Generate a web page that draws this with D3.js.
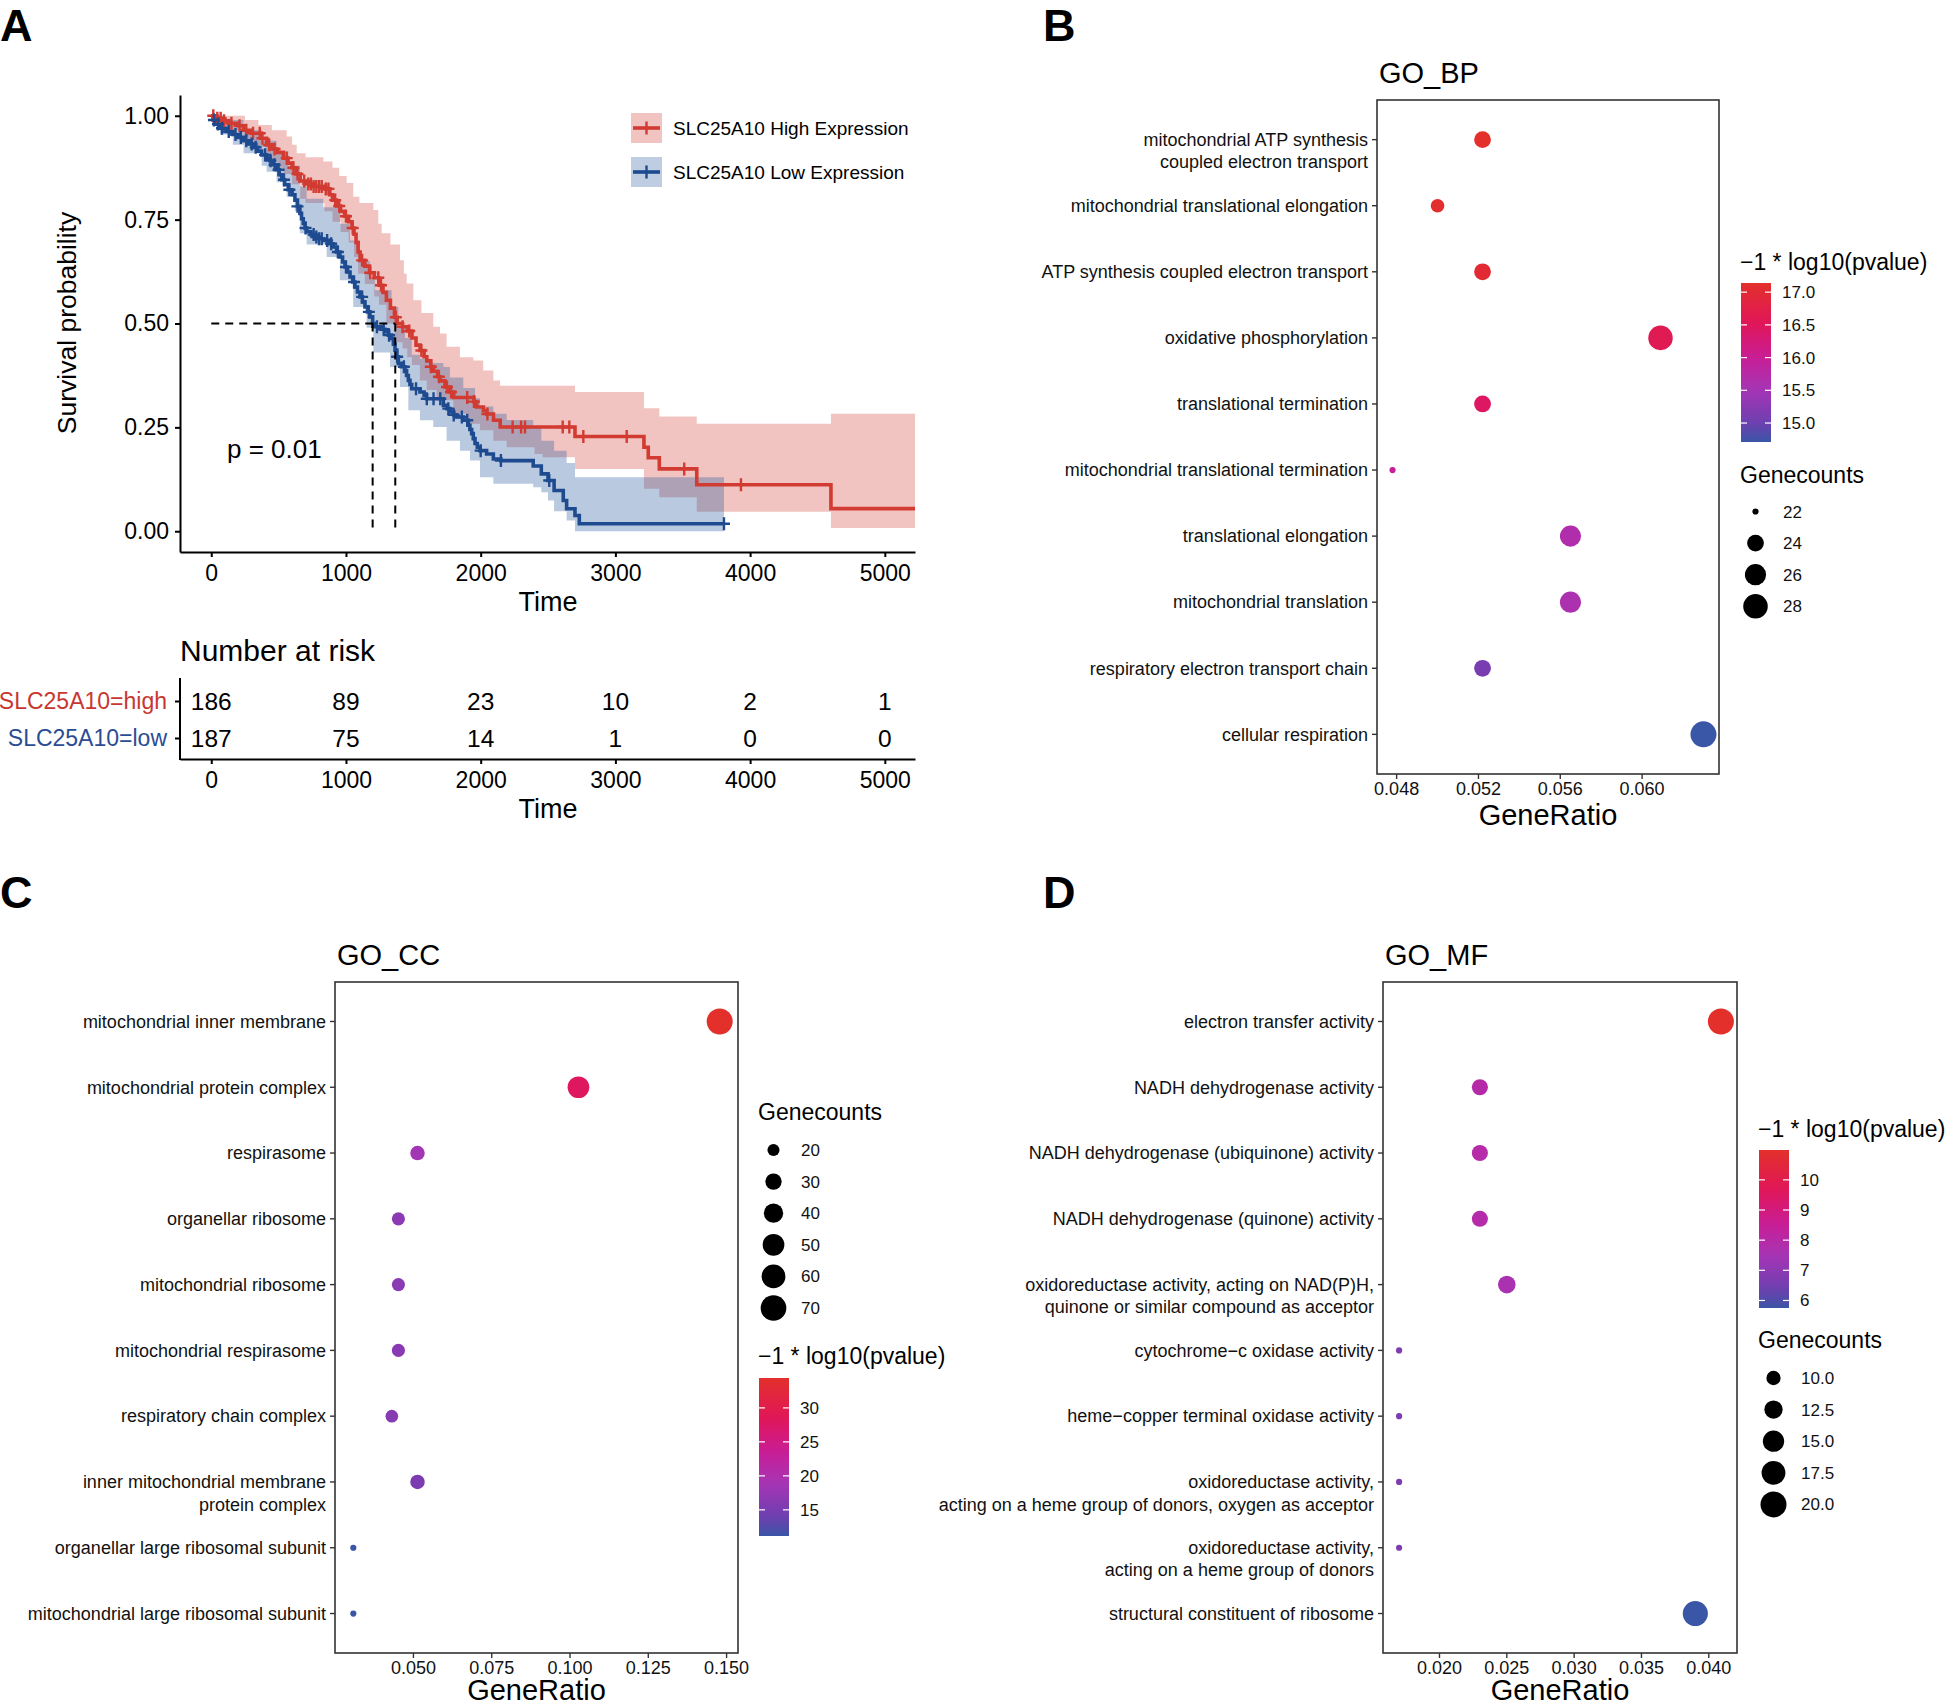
<!DOCTYPE html>
<html><head><meta charset="utf-8">
<script src="https://cdn.jsdelivr.net/npm/d3@7"></script>
<style>body{margin:0;background:#fff}svg{display:block}text{font-family:"Liberation Sans",Arial,Helvetica,sans-serif}</style>
</head><body><svg id="fig" width="1952" height="1708"></svg>
<script>
// ================= DATA =================
// Panel A: Kaplan-Meier
const kmLegend = ["SLC25A10 High Expression", "SLC25A10 Low Expression"];
const highTimes = [0,30,80,130,200,240,300,370,410,450,490,535,570,600,630,660,700,760,840,880,900,930,960,990,1020,1045,1060,1075,1090,1105,1140,1175,1210,1245,1275,1300,1330,1360,1380,1420,1455,1490,1520,1550,1580,1600,1630,1650,1680,1700,1735,1770,1800,1950,1970,2020,2045,2095,2145,2700,3212,3244,3326,3604,4600];
const highSurv  = [1,0.994,0.988,0.982,0.976,0.965,0.958,0.946,0.930,0.920,0.912,0.898,0.886,0.875,0.860,0.843,0.836,0.830,0.824,0.810,0.797,0.783,0.770,0.758,0.745,0.730,0.715,0.695,0.672,0.652,0.638,0.622,0.610,0.592,0.575,0.556,0.537,0.515,0.500,0.492,0.482,0.465,0.448,0.435,0.420,0.410,0.396,0.385,0.372,0.362,0.347,0.335,0.322,0.312,0.299,0.290,0.282,0.267,0.251,0.228,0.202,0.177,0.150,0.112,0.0545];
const highEnd = 5224;
const highUpT = [0,250,350,450,560,600,634,700,832,900,950,1005,1054,1100,1203,1240,1265,1330,1401,1430,1451,1500,1560,1648,1698,1747,1846,1945,2019,2094,2143,2700,3212,3326,3604,4600];
const highUp  = [1,0.99,0.978,0.965,0.950,0.930,0.910,0.900,0.890,0.875,0.855,0.838,0.805,0.790,0.773,0.740,0.717,0.690,0.652,0.620,0.596,0.556,0.525,0.492,0.476,0.444,0.419,0.411,0.387,0.363,0.350,0.335,0.296,0.276,0.259,0.283];
const highLoT = [0,100,240,300,410,490,535,600,660,700,840,900,960,1020,1060,1090,1140,1210,1245,1300,1360,1420,1455,1490,1549,1600,1673,1797,1896,1995,2094,2193,2400,2460,2700,3212,3326,3604,4600];
const highLo  = [0.99,0.965,0.935,0.925,0.895,0.875,0.860,0.835,0.800,0.790,0.770,0.745,0.720,0.695,0.660,0.620,0.595,0.565,0.545,0.500,0.455,0.440,0.419,0.400,0.363,0.340,0.315,0.283,0.259,0.243,0.218,0.202,0.186,0.178,0.150,0.102,0.082,0.047,0.008];
const highCensor = [15,45,70,95,150,210,260,310,360,380,430,470,560,610,640,690,720,740,760,780,800,820,850,870,920,950,1000,1050,1120,1180,1240,1260,1370,1420,1470,1560,1630,1690,1750,1780,1900,1950,2050,2237,2300,2329,2609,2658,2762,3084,3511,3932];

const lowTimes = [0,15,40,65,110,160,200,240,280,312,345,374,410,436,460,485,505,523,545,572,600,621,640,658,670,683,696,708,740,770,800,832,870,906,930,955,975,993,1012,1030,1050,1067,1085,1104,1122,1141,1160,1178,1198,1215,1260,1290,1315,1339,1352,1364,1377,1389,1410,1438,1450,1463,1475,1488,1549,1580,1599,1723,1750,1772,1800,1822,1871,1908,1920,1933,1945,1958,1975,1995,2044,2094,2150,2390,2450,2500,2545,2613,2638,2700,2732];
const lowSurv  = [1,0.990,0.980,0.970,0.962,0.955,0.948,0.940,0.932,0.924,0.915,0.906,0.898,0.892,0.882,0.870,0.858,0.846,0.834,0.822,0.810,0.797,0.782,0.765,0.752,0.741,0.730,0.721,0.714,0.708,0.704,0.700,0.692,0.684,0.672,0.660,0.648,0.636,0.624,0.612,0.600,0.588,0.576,0.564,0.552,0.540,0.528,0.516,0.500,0.492,0.486,0.480,0.472,0.464,0.450,0.436,0.420,0.404,0.396,0.387,0.375,0.363,0.353,0.343,0.335,0.327,0.319,0.303,0.295,0.287,0.280,0.275,0.267,0.255,0.245,0.235,0.223,0.211,0.202,0.194,0.186,0.174,0.170,0.157,0.138,0.122,0.098,0.074,0.054,0.038,0.018];
const lowEnd = 3806;
const lowUpT = [0,100,240,374,485,572,658,708,832,955,1030,1104,1178,1215,1339,1389,1438,1488,1549,1624,1723,1772,1871,1958,1995,2094,2193,2390,2450,2545,2638,2700];
const lowUp  = [1,0.99,0.965,0.940,0.915,0.880,0.830,0.800,0.780,0.740,0.700,0.650,0.610,0.580,0.540,0.490,0.465,0.425,0.415,0.405,0.395,0.370,0.345,0.320,0.300,0.283,0.268,0.252,0.218,0.194,0.164,0.130];
const lowLoT = [0,65,160,240,374,411,485,560,620,658,708,857,955,1054,1153,1203,1327,1401,1463,1549,1648,1747,1846,1921,1995,2094,2390,2450,2500,2545,2638,2700];
const lowLo  = [0.985,0.955,0.930,0.910,0.880,0.865,0.840,0.805,0.770,0.717,0.690,0.660,0.604,0.540,0.490,0.430,0.395,0.347,0.291,0.267,0.251,0.218,0.194,0.170,0.130,0.114,0.106,0.094,0.074,0.048,0.026,0.0];
const lowCensor = [20,50,80,130,180,220,260,300,330,400,440,470,500,540,580,640,700,760,780,800,820,860,890,940,1000,1060,1120,1170,1230,1280,1320,1380,1430,1520,1600,1650,1700,1760,1800,1860,1900,2000,2150,2509,3806];

const medianTimes = [1198, 1366];
const pValueText = "p = 0.01";
const kmYTicks = [0, 0.25, 0.5, 0.75, 1];
const kmXTicks = [0, 1000, 2000, 3000, 4000, 5000];

// Risk table
const riskTimes = [0, 1000, 2000, 3000, 4000, 5000];
const riskHigh = [186, 89, 23, 10, 2, 1];
const riskLow  = [187, 75, 14, 1, 0, 0];
const riskLabels = ["SLC25A10=high", "SLC25A10=low"];

// Panel B: GO_BP
const bpTerms = ["mitochondrial ATP synthesis\ncoupled electron transport","mitochondrial translational elongation","ATP synthesis coupled electron transport","oxidative phosphorylation","translational termination","mitochondrial translational termination","translational elongation","mitochondrial translation","respiratory electron transport chain","cellular respiration"];
const bpRatio  = [0.0522,0.0500,0.0522,0.0609,0.0522,0.0478,0.0565,0.0565,0.0522,0.0630];
const bpCount  = [24,23,24,28,24,22,26,26,24,29];
const bpLogP   = [17.14,17.10,17.00,16.60,16.45,15.95,15.65,15.60,15.10,14.71];
const bpXTicks = [0.048,0.052,0.056,0.060];
const bpColorBreaks = [15.0,15.5,16.0,16.5,17.0];
const bpSizeBreaks = [22,24,26,28];

// Panel C: GO_CC
const ccTerms = ["mitochondrial inner membrane","mitochondrial protein complex","respirasome","organellar ribosome","mitochondrial ribosome","mitochondrial respirasome","respiratory chain complex","inner mitochondrial membrane\nprotein complex","organellar large ribosomal subunit","mitochondrial large ribosomal subunit"];
const ccRatio  = [0.1478,0.1027,0.0513,0.0452,0.0452,0.0452,0.0431,0.0513,0.0308,0.0308];
const ccCount  = [72,50,25,22,22,22,21,25,15,15];
const ccLogP   = [34.4,28.0,18.5,16.5,16.4,16.3,16.0,15.2,11.2,11.15];
const ccXTicks = [0.050,0.075,0.100,0.125,0.150];
const ccColorBreaks = [15,20,25,30];
const ccSizeBreaks = [20,30,40,50,60,70];

// Panel D: GO_MF
const mfTerms = ["electron transfer activity","NADH dehydrogenase activity","NADH dehydrogenase (ubiquinone) activity","NADH dehydrogenase (quinone) activity","oxidoreductase activity, acting on NAD(P)H,\nquinone or similar compound as acceptor","cytochrome\u2212c oxidase activity","heme\u2212copper terminal oxidase activity","oxidoreductase activity,\nacting on a heme group of donors, oxygen as acceptor","oxidoreductase activity,\nacting on a heme group of donors","structural constituent of ribosome"];
const mfRatio  = [0.0409,0.0230,0.0230,0.0230,0.0250,0.0170,0.0170,0.0170,0.0170,0.0390];
const mfCount  = [20,11,11,11,12,8,8,8,8,19];
const mfLogP   = [10.99,7.95,7.93,7.90,7.60,6.70,6.70,6.70,6.70,5.75];
const mfXTicks = [0.020,0.025,0.030,0.035,0.040];
const mfColorBreaks = [6,7,8,9,10];
const mfSizeBreaks = [10,12.5,15,17.5,20];

// ================= DRAWING =================
const svg = d3.select("#fig");
const RED = "#D13B32", BLUE = "#1E4A90";

function stepAt(ts, vs, t){ let v = vs[0]; for (let i=0;i<ts.length;i++){ if (ts[i] <= t) v = vs[i]; else break; } return v; }

// panel letters
[["A",0,41],["B",1043,41],["C",0,908],["D",1043,908]].forEach(([l,x,y])=>{
  svg.append("text").attr("x",x).attr("y",y).attr("font-size",45).attr("font-weight","bold").text(l);
});

// ---------- Panel A ----------
const gA = svg.append("g");
const xKM = d3.scaleLinear().domain([-232, 5224]).range([180, 915]);
const yKM = d3.scaleLinear().domain([-0.05, 1.05]).range([552, 95]);

function bandPoints(upT, up, loT, lo, end){
  const knots = Array.from(new Set(upT.concat(loT))).sort((a,b)=>a-b);
  const pts = knots.map(t=>({t, hi: stepAt(upT, up, t), lo: stepAt(loT, lo, t)}));
  const last = pts[pts.length-1];
  pts.push({t:end, hi:last.hi, lo:last.lo});
  return pts;
}
const area = d3.area().curve(d3.curveStepAfter).x(d=>xKM(d.t)).y0(d=>yKM(d.lo)).y1(d=>yKM(d.hi));
gA.append("path").attr("d", area(bandPoints(highUpT, highUp, highLoT, highLo, highEnd))).attr("fill", RED).attr("fill-opacity", 0.3);
gA.append("path").attr("d", area(bandPoints(lowUpT, lowUp, lowLoT, lowLo, lowEnd))).attr("fill", "#2A5A9E").attr("fill-opacity", 0.33);

const line = d3.line().curve(d3.curveStepAfter).x(d=>xKM(d[0])).y(d=>yKM(d[1]));
function curvePts(ts, vs, end){ const p = ts.map((t,i)=>[t, vs[i]]); p.push([end, vs[vs.length-1]]); return p; }
gA.append("path").attr("d", line(curvePts(highTimes, highSurv, highEnd))).attr("fill","none").attr("stroke",RED).attr("stroke-width",3.6);
gA.append("path").attr("d", line(curvePts(lowTimes, lowSurv, lowEnd))).attr("fill","none").attr("stroke",BLUE).attr("stroke-width",3.6);

const plusPath = "M-6,0H6M0,-6.5V6.5";
gA.selectAll("path.ch").data(highCensor).join("path").attr("class","ch")
  .attr("transform", t=>`translate(${xKM(t)},${yKM(stepAt(highTimes, highSurv, t))})`)
  .attr("d", plusPath).attr("stroke", RED).attr("stroke-width", 2.4);
gA.selectAll("path.cl").data(lowCensor).join("path").attr("class","cl")
  .attr("transform", t=>`translate(${xKM(t)},${yKM(stepAt(lowTimes, lowSurv, t))})`)
  .attr("d", plusPath).attr("stroke", BLUE).attr("stroke-width", 2.4);

// median dashed lines
const dash = "8,6";
gA.append("line").attr("x1", xKM(0)).attr("x2", xKM(d3.max(medianTimes))).attr("y1", yKM(0.5)).attr("y2", yKM(0.5))
  .attr("stroke","#000").attr("stroke-width",2).attr("stroke-dasharray",dash);
medianTimes.forEach(m=>{
  gA.append("line").attr("x1", xKM(m)).attr("x2", xKM(m)).attr("y1", yKM(0.5)).attr("y2", yKM(0))
    .attr("stroke","#000").attr("stroke-width",2).attr("stroke-dasharray",dash);
});

// axes
const axY = gA.append("g").attr("transform","translate(180,0)")
  .call(d3.axisLeft(yKM).tickValues(kmYTicks).tickFormat(d3.format(".2f")).tickSize(5).tickSizeOuter(0).tickPadding(6));
const axX = gA.append("g").attr("transform","translate(0,552)")
  .call(d3.axisBottom(xKM).tickValues(kmXTicks).tickFormat(d3.format("d")).tickSize(5).tickSizeOuter(0).tickPadding(8));
[axY, axX].forEach(a=>{
  a.select(".domain").attr("stroke","#000").attr("stroke-width",2);
  a.selectAll(".tick line").attr("stroke","#000").attr("stroke-width",2);
  a.selectAll(".tick text").attr("font-size",23).attr("fill","#000").attr("font-family",'"Liberation Sans",Arial,sans-serif');
});
gA.append("text").attr("transform","translate(76,323) rotate(-90)").attr("text-anchor","middle").attr("font-size",26.5).text("Survival probability");
gA.append("text").attr("x",548).attr("y",611).attr("text-anchor","middle").attr("font-size",27).text("Time");
gA.append("text").attr("x",227).attr("y",458).attr("font-size",26).text(pValueText);

// legend
const legCols = [RED, BLUE];
kmLegend.forEach((lab,i)=>{
  const yc = 128 + i*44;
  gA.append("rect").attr("x",631).attr("y",yc-15).attr("width",31).attr("height",30).attr("fill", i===0?RED:"#2A5A9E").attr("fill-opacity",0.3);
  gA.append("line").attr("x1",633).attr("x2",660).attr("y1",yc).attr("y2",yc).attr("stroke",legCols[i]).attr("stroke-width",3.6);
  gA.append("line").attr("x1",646.5).attr("x2",646.5).attr("y1",yc-6.5).attr("y2",yc+6.5).attr("stroke",legCols[i]).attr("stroke-width",2.4);
  gA.append("text").attr("x",673).attr("y",yc+7).attr("font-size",19).text(lab);
});

// risk table
gA.append("text").attr("x",180).attr("y",661).attr("font-size",30).text("Number at risk");
const yRisk = d3.scalePoint().domain(riskLabels).range([701, 738]);
const axRY = gA.append("g").attr("transform","translate(180,0)")
  .call(d3.axisLeft(yRisk).tickSize(5).tickSizeOuter(0).tickPadding(8));
axRY.select(".domain").remove();
gA.append("line").attr("x1",180).attr("x2",180).attr("y1",678).attr("y2",760).attr("stroke","#000").attr("stroke-width",2);
axRY.selectAll(".tick line").attr("stroke","#000").attr("stroke-width",2);
axRY.selectAll(".tick text").attr("font-size",23).attr("font-family",'"Liberation Sans",Arial,sans-serif').attr("fill",(d,i)=>i===0?"#C8372F":"#2B4C92");
const axRX = gA.append("g").attr("transform","translate(0,759)")
  .call(d3.axisBottom(xKM).tickValues(kmXTicks).tickFormat(d3.format("d")).tickSize(5).tickSizeOuter(0).tickPadding(7.5));
axRX.select(".domain").attr("stroke","#000").attr("stroke-width",2);
axRX.selectAll(".tick line").attr("stroke","#000").attr("stroke-width",2);
axRX.selectAll(".tick text").attr("font-size",23).attr("fill","#000").attr("font-family",'"Liberation Sans",Arial,sans-serif');
[[riskHigh, riskLabels[0]],[riskLow, riskLabels[1]]].forEach(([vals, key])=>{
  vals.forEach((v,i)=>{
    gA.append("text").attr("x", xKM(riskTimes[i])).attr("y", yRisk(key)+8.5).attr("text-anchor","middle").attr("font-size",24.5).text(v);
  });
});
gA.append("text").attr("x",548).attr("y",818).attr("text-anchor","middle").attr("font-size",27).text("Time");

// ---------- GO dot plots ----------
const colorStops = d3.scaleLinear().domain([0,0.12,0.33,0.53,0.74,1])
  .range(["#3A56A6","#6E3FB0","#A635B5","#C81E96","#E0165A","#E3302B"]).interpolate(d3.interpolateRgb);
const RMIN = 3.1, RMAX = 13;

function dotPanel(o){
  const g = svg.append("g");
  const ext = d3.extent(o.ratio), pad = (ext[1]-ext[0])*0.05;
  const x = d3.scaleLinear().domain([ext[0]-pad, ext[1]+pad]).range([o.l, o.r]);
  const y = d3.scalePoint().domain(o.terms).range([o.t, o.b]).padding(0.6);
  const cExt = d3.extent(o.logp);
  const cNorm = d3.scaleLinear().domain(cExt).range([0,1]);
  const col = v => colorStops(cNorm(v));
  const sExt = d3.extent(o.count);
  const sNorm = d3.scaleLinear().domain(sExt).range([0,1]);
  const rad = v => RMIN + (RMAX-RMIN)*Math.sqrt(Math.max(0, sNorm(v)));

  g.append("text").attr("x", o.l+2).attr("y", o.t-17).attr("font-size",29).text(o.title);
  g.append("rect").attr("x",o.l).attr("y",o.t).attr("width",o.r-o.l).attr("height",o.b-o.t).attr("fill","none").attr("stroke","#333").attr("stroke-width",1.6);

  // y axis ticks and labels
  o.terms.forEach(term=>{
    const yy = y(term);
    g.append("line").attr("x1",o.l-5).attr("x2",o.l).attr("y1",yy).attr("y2",yy).attr("stroke","#333").attr("stroke-width",1.4);
    const lines = term.split("\n");
    const tx = g.append("text").attr("text-anchor","end").attr("font-size",18).attr("fill","#111");
    lines.forEach((ln,k)=>{
      tx.append("tspan").attr("x", o.l-9).attr("y", yy + 6.3 + k*22.4).text(ln);
    });
  });
  // x axis
  o.xTicks.forEach(v=>{
    g.append("line").attr("x1",x(v)).attr("x2",x(v)).attr("y1",o.b).attr("y2",o.b+5).attr("stroke","#333").attr("stroke-width",1.4);
    g.append("text").attr("x",x(v)).attr("y",o.b+20.5).attr("text-anchor","middle").attr("font-size",18).attr("fill","#111").text(d3.format(".3f")(v));
  });
  g.append("text").attr("x",(o.l+o.r)/2).attr("y",o.xTitleY).attr("text-anchor","middle").attr("font-size",29).text("GeneRatio");

  // dots
  g.selectAll("circle.dot").data(o.terms).join("circle").attr("class","dot")
    .attr("cx",(d,i)=>x(o.ratio[i])).attr("cy",d=>y(d))
    .attr("r",(d,i)=>rad(o.count[i])).attr("fill",(d,i)=>col(o.logp[i]));

  // color legend
  const cl = o.colorLeg;
  g.append("text").attr("x",cl.x).attr("y",cl.titleY).attr("font-size",23).text("\u22121 * log10(pvalue)");
  const gid = "grad"+o.title;
  const grad = svg.append("defs").append("linearGradient").attr("id",gid).attr("x1",0).attr("x2",0).attr("y1",1).attr("y2",0);
  d3.range(0,1.0001,0.05).forEach(f=>grad.append("stop").attr("offset",f).attr("stop-color",colorStops(f)));
  g.append("rect").attr("x",cl.x+1).attr("y",cl.barY).attr("width",cl.w).attr("height",cl.h).attr("fill",`url(#${gid})`);
  const yc = d3.scaleLinear().domain(cExt).range([cl.barY+cl.h, cl.barY]);
  o.colorBreaks.forEach(v=>{
    const yy = yc(v);
    g.append("line").attr("x1",cl.x+1).attr("x2",cl.x+1+cl.w/5).attr("y1",yy).attr("y2",yy).attr("stroke","#fff").attr("stroke-width",1.2);
    g.append("line").attr("x1",cl.x+1+cl.w*4/5).attr("x2",cl.x+1+cl.w).attr("y1",yy).attr("y2",yy).attr("stroke","#fff").attr("stroke-width",1.2);
    g.append("text").attr("x",cl.x+1+cl.w+11).attr("y",yy+6).attr("font-size",17).attr("fill","#111").text(d3.format(o.colorFmt)(v));
  });

  // size legend
  const sl = o.sizeLeg;
  g.append("text").attr("x",sl.x).attr("y",sl.titleY).attr("font-size",23).text("Genecounts");
  o.sizeBreaks.forEach((v,i)=>{
    const yy = sl.startY + i*31.6;
    g.append("circle").attr("cx",sl.x+15.5).attr("cy",yy).attr("r",rad(v)).attr("fill","#000");
    g.append("text").attr("x",sl.x+43).attr("y",yy+6).attr("font-size",17).attr("fill","#111").text(d3.format(o.sizeFmt)(v));
  });
}

dotPanel({title:"GO_BP", terms:bpTerms, ratio:bpRatio, count:bpCount, logp:bpLogP, xTicks:bpXTicks,
  colorBreaks:bpColorBreaks, colorFmt:".1f", sizeBreaks:bpSizeBreaks, sizeFmt:"d",
  l:1377, r:1719, t:100, b:774, xTitleY:825,
  colorLeg:{x:1740, titleY:270, barY:283, w:30, h:159}, sizeLeg:{x:1740, titleY:483, startY:511.5}});

dotPanel({title:"GO_CC", terms:ccTerms, ratio:ccRatio, count:ccCount, logp:ccLogP, xTicks:ccXTicks,
  colorBreaks:ccColorBreaks, colorFmt:"d", sizeBreaks:ccSizeBreaks, sizeFmt:"d",
  l:335, r:738, t:982, b:1653, xTitleY:1700,
  colorLeg:{x:758, titleY:1364, barY:1378, w:30, h:158}, sizeLeg:{x:758, titleY:1120, startY:1150}});

dotPanel({title:"GO_MF", terms:mfTerms, ratio:mfRatio, count:mfCount, logp:mfLogP, xTicks:mfXTicks,
  colorBreaks:mfColorBreaks, colorFmt:"d", sizeBreaks:mfSizeBreaks, sizeFmt:".1f",
  l:1383, r:1737, t:982, b:1653, xTitleY:1700,
  colorLeg:{x:1758, titleY:1137, barY:1150, w:30, h:158}, sizeLeg:{x:1758, titleY:1348, startY:1378}});
</script></body></html>
